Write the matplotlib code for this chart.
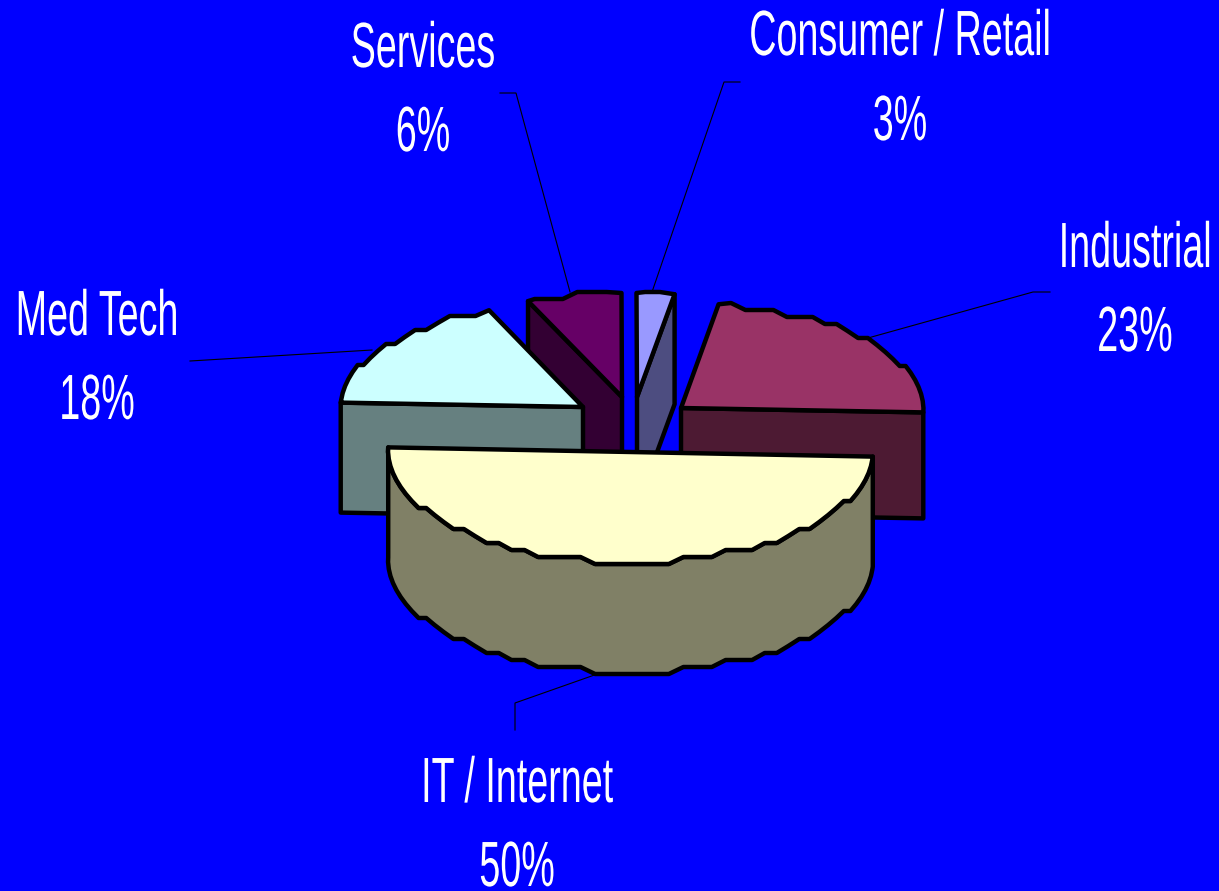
import numpy as np
import matplotlib
matplotlib.use('Agg')
import matplotlib.pyplot as plt
import matplotlib.patheffects as pe
from matplotlib.patches import Polygon
from matplotlib.transforms import Affine2D

# Datos del grafico (sin redondear, la etiqueta los redondea)
sectors = ['IT / Internet', 'Industrial', 'Consumer / Retail', 'Services', 'Med Tech']
shares = [50, 23.19, 2.51, 6.3, 18]

# Estilo de cada sector
top_colors = ['#FFFFCC', '#993366', '#9999FF', '#660066', '#CCFFFF']
wall_colors = ['#808066', '#4D1A33', '#4D4D80', '#330033', '#668080']
apex_x = [630.5, 681, 637, 622, 583]
apex_y = [452, 408, 397, 397, 407]
radius_y = [110, 105, 104, 104, 105]  # la parte de atras se ve mas plana
depths = [110, 106, 110, 110, 110]
draw_order = [3, 2, 1, 4, 0]

# Etiquetas: centro, linea base del nombre y del porcentaje
label_x = [517, 1135, 900, 423, 97]
name_y = [802, 267, 55, 67, 335]
value_y = [886, 351, 140, 151, 419]

# Lineas guia
leaders = [
    ([515, 515, 620], [730, 703, 666]),
    ([1050, 1033, 868], [292, 292, 338]),
    ([740, 724, 652], [82, 82, 292]),
    ([500, 516, 570], [93, 93, 292]),
    ([190, 372], [361, 350]),
]

RX = 242.5
START = 177.6  # IT empieza aqui y se recorre en sentido antihorario
EDGE = 3.2


class Squeeze(pe.AbstractPathEffect):
    # Arial condensada a lo ancho, como en la diapositiva original
    def __init__(self, x0, sx=0.59):
        super().__init__()
        self.x0 = x0
        self.sx = sx

    def draw_path(self, renderer, gc, tpath, affine, rgbFace=None):
        squeeze = Affine2D().translate(-self.x0, 0).scale(self.sx, 1).translate(self.x0, 0)
        renderer.draw_path(gc, tpath, affine + squeeze, rgbFace)


def rim(x0, y0, ry, a1, a2):
    # Arco con escalones, el original esta dibujado a baja resolucion
    t = np.radians(np.arange(a1, a2, 3.5))
    x = x0 + RX * np.cos(t)
    y = y0 - ry * np.sin(t)
    y = y0 + np.round((y - y0) / 7) * 7
    end = np.radians(a2)
    start = np.radians(a1)
    pts = [(x0 + RX * np.cos(start), y0 - ry * np.sin(start))]
    pts += list(zip(x[1:], y[1:]))
    pts.append((x0 + RX * np.cos(end), y0 - ry * np.sin(end)))
    return np.array(pts)


fig = plt.figure(figsize=(12.19, 8.91), dpi=100, facecolor='#0000FF')
ax = fig.add_axes([0, 0, 1, 1])
ax.set_xlim(0, 1219)
ax.set_ylim(891, 0)
ax.axis('off')

# Angulos de cada sector a partir de los porcentajes
sweeps = np.array(shares) * 3.6
starts = (START + np.concatenate([[0], np.cumsum(sweeps)[:-1]])) % 360

for xs, ys in leaders:
    ax.plot(xs, ys, color='black', lw=0.8, zorder=1, solid_joinstyle='miter')

z = 2
for i in draw_order:
    x0, y0 = apex_x[i], apex_y[i]
    a1 = starts[i]
    a2 = a1 + sweeps[i]
    arc = rim(x0, y0, radius_y[i], a1, a2)
    apex = np.array([[x0, y0]])
    drop = np.array([0, depths[i]])
    if i == 0:
        wall = np.vstack([arc, (arc + drop)[::-1]])
    elif i in (1, 2):
        # cara radial del lado derecho
        wall = np.vstack([apex, arc[:1], arc[:1] + drop, apex + drop])
    else:
        # cara radial del lado izquierdo
        wall = np.vstack([apex, arc[-1:], arc[-1:] + drop, apex + drop])
    ax.add_patch(Polygon(wall, closed=True, facecolor=wall_colors[i], edgecolor='black',
                         lw=EDGE, joinstyle='round', zorder=z))
    ax.add_patch(Polygon(np.vstack([apex, arc]), closed=True, facecolor=top_colors[i],
                         edgecolor='black', lw=EDGE, joinstyle='round', zorder=z + 1))
    z += 2

for i, name in enumerate(sectors):
    squeeze = [Squeeze(label_x[i] * fig.dpi / 100)]
    ax.text(label_x[i], name_y[i], name, ha='center', va='baseline', color='white',
            fontsize=46, family='Liberation Sans', path_effects=squeeze, zorder=20, clip_on=False)
    ax.text(label_x[i], value_y[i], f'{shares[i]:.0f}%', ha='center', va='baseline', color='white',
            fontsize=46, family='Liberation Sans', path_effects=squeeze, zorder=20, clip_on=False)

fig.savefig('out.png', dpi=100, facecolor=fig.get_facecolor())
